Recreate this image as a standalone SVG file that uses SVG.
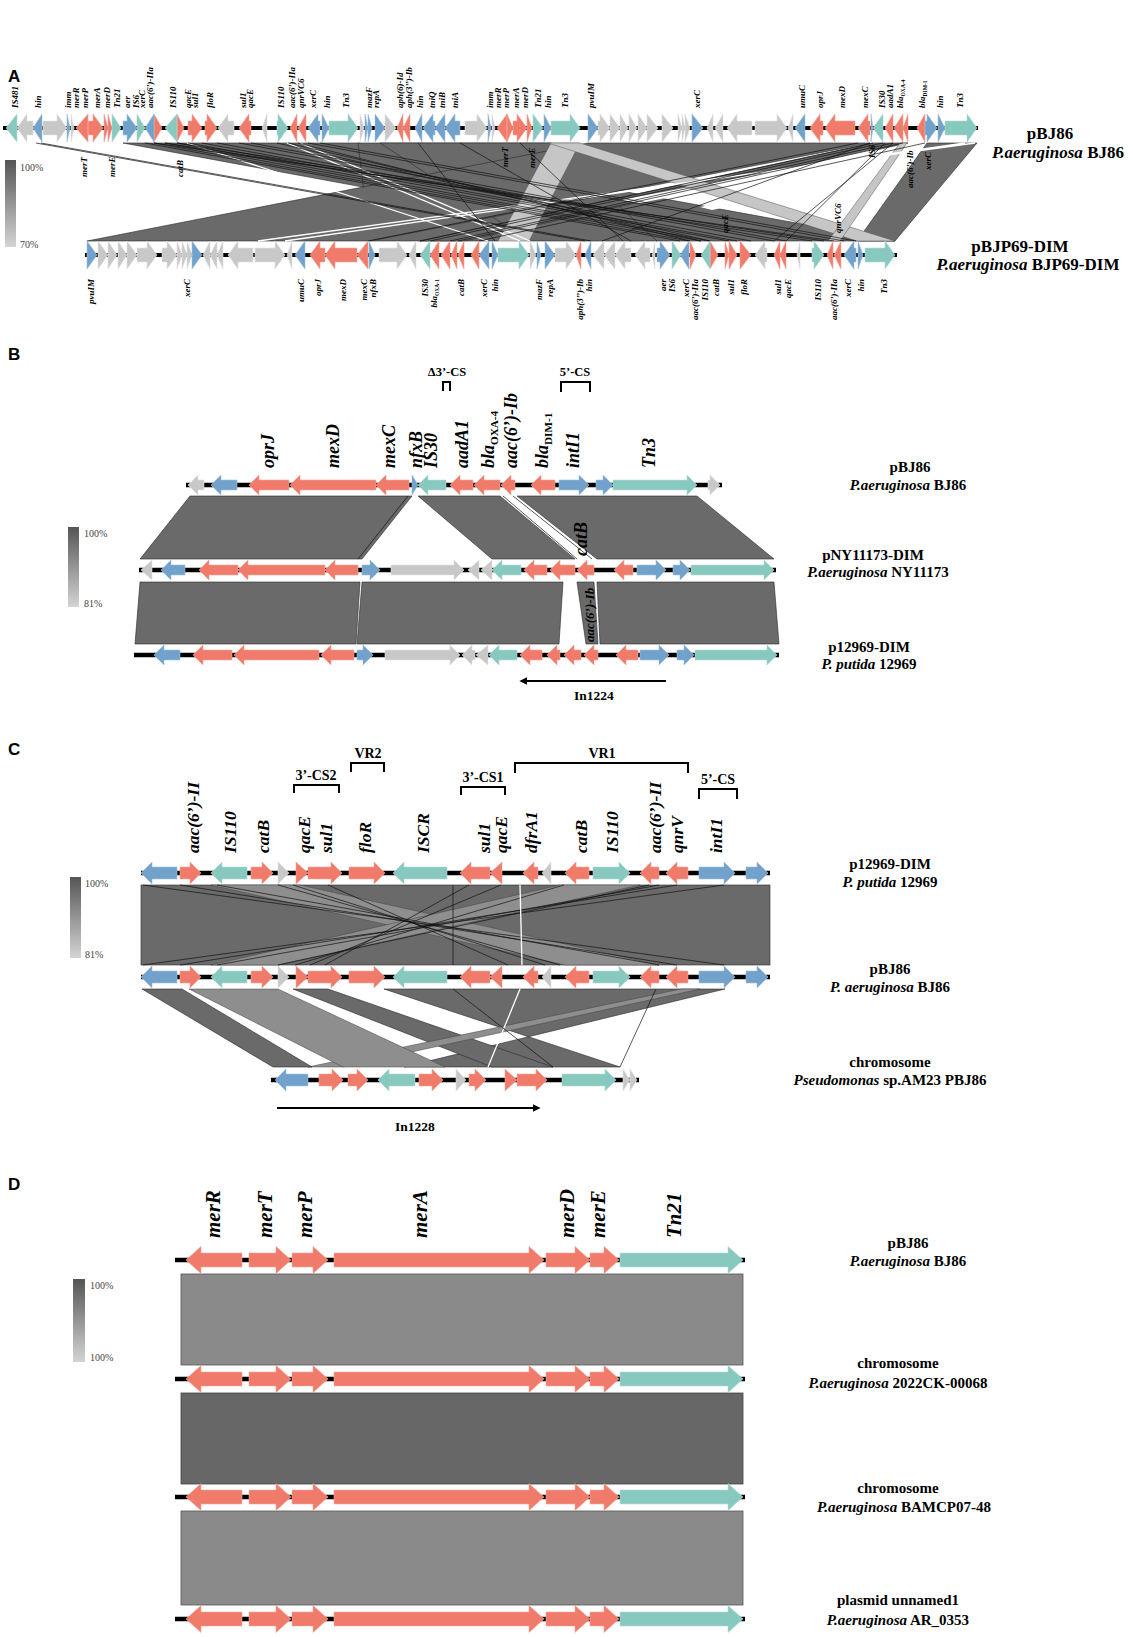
<svg xmlns="http://www.w3.org/2000/svg" width="1133" height="1637" viewBox="0 0 1133 1637">
<defs>
<style>
.r{fill:#f07b6b;stroke:#f5a89a;stroke-width:.6}
.b{fill:#72a2cb;stroke:#a3c3de;stroke-width:.6}
.t{fill:#87c8bf;stroke:#b5ded8;stroke-width:.6}
.g{fill:#c8c8c8;stroke:#e2e2e2;stroke-width:.6}
.trk{stroke:#000;stroke-width:4.5}
.pd{fill:#6a6a6a;stroke:#2a2a2a;stroke-width:.6}
.pl{fill:#c6c6c6;stroke:#555;stroke-width:.5}
.pm{fill:#8e8e8e;stroke:#444;stroke-width:.5}
.pw{fill:#fff;stroke:none}
.bl{stroke:#111;stroke-width:.7;fill:none}
.wl{stroke:#fff;stroke-width:1.3;fill:none}
.gA{font-family:"Liberation Serif",serif;font-style:italic;font-weight:bold;font-size:9px}
.gB{font-family:"Liberation Serif",serif;font-style:italic;font-weight:bold;font-size:18px}
.gC{font-family:"Liberation Serif",serif;font-style:italic;font-weight:bold;font-size:17.5px}
.gD{font-family:"Liberation Serif",serif;font-style:italic;font-weight:bold;font-size:21px}
.nm{font-family:"Liberation Serif",serif;font-weight:bold;font-size:15px;text-anchor:middle}
.nmA{font-family:"Liberation Serif",serif;font-weight:bold;font-size:17px;text-anchor:middle}
.it{font-style:italic}
.sub{font-style:normal;font-size:.62em}
.pan{font-family:"Liberation Sans",Arial,sans-serif;font-weight:bold;font-size:17px}
.pct{font-family:"Liberation Serif",serif;font-size:10px;fill:#444}
.brt{font-family:"Liberation Serif",serif;font-weight:bold;font-size:13px;text-anchor:middle}
.brk{fill:none;stroke:#000;stroke-width:2}
.arr{stroke:#000;stroke-width:2}
</style>
<linearGradient id="grd" x1="0" y1="0" x2="0" y2="1"><stop offset="0" stop-color="#555"/><stop offset="1" stop-color="#d4d4d4"/></linearGradient>
<marker id="ah" viewBox="0 0 10 10" refX="8" refY="5" markerWidth="4" markerHeight="4" orient="auto"><path d="M0,0L10,5L0,10Z" fill="#000"/></marker>
</defs>
<rect width="1133" height="1637" fill="#fff"/>

<!-- ============ PANEL A ============ -->
<text class="pan" x="8" y="82">A</text>
<g id="legendA"><rect x="5" y="160" width="11" height="87" fill="url(#grd)"/><text class="pct" x="20" y="171">100%</text><text class="pct" x="20" y="248">70%</text></g>

<g id="cmpA">
<polygon class="pd" points="123,143 358,143 895,241 657,241"/>
<polygon class="pd" points="358,143 551,143 498,241 370,241"/>
<polygon class="pd" points="380,143 551,143 657,241 529,241"/>
<polygon class="pd" points="588,143 870,143 370,241 87,241"/>
<polygon class="pd" points="873,143 908,143 464,241 420,241"/>
<polygon class="pd" points="927,143 977,143 895,241 857,241"/>
<polygon class="pw" points="620,200 790,168 800,172 640,203"/>
<polygon class="pw" points="700,207 800,186 806,190 712,210"/>
<polygon class="pw" points="760,175 870,150 880,152 776,180"/>
<polygon class="pl" points="551,143 580,143 529,241 498,241"/>
<polygon class="pl" points="548,143 580,143 895,241 857,241"/>
<polygon class="pl" points="900,143 907,143 840,241 828,241"/>
<path class="wl" d="M287,143L520,241M187,143L488,241M975,143L258,241M965,143L285,241M300,143L530,241"/>
<path class="bl" d="M36,143L585,241M41,143L591,241M145,143L680,241M154,143L689,241M165,143L701,241M177,143L710,241M188,143L729,241M202,143L737,241M217,143L751,241M239,143L774,241M251,143L786,241M277,143L701,241M288,143L710,241M165,143L812,241M177,143L824,241M154,143L834,241M298,143L690,241M308,143L844,241M320,143L856,241M418,143L495,241M873,143L420,241M883,143L430,241M893,143L450,241M903,143L458,241M925,143L479,241M858,143L368,241M870,143L602,241M885,143L786,241M893,143L774,241M520,143L623,241M460,143L631,241"/>
</g>

<g id="A-pBJ86" transform="translate(0,128)">
<line class="trk" x1="3" y1="0" x2="978" y2="0" style="stroke-width:4"/>
<path class="r" d="M88,-14L76,0L88,14Z M88,-7H93V-14L103,0L93,14V7H88Z M104,-14L108,0L104,14Z M108,-14L112,0L108,14Z M154,-14L162,0L154,14Z M177,-14L184,0L177,14Z M188,-7H192V-14L202,0L192,14V7H188Z M205,-7H207V-14L217,0L207,14V7H205Z M251,-7H249V-14L239,0L249,14V7H251Z M297,-14L290,0L297,14Z M306,-14L298,0L306,14Z M403,-14L397,0L403,14Z M410,-14L403,0L410,14Z M507,-14L497,0L507,14Z M507,-14L513,0L507,14Z M513,-7H517V-14L527,0L517,14V7H513Z M527,-14L532,0L527,14Z M823,-7H820V-14L810,0L820,14V7H823Z M855,-7H835V-14L825,0L835,14V7H855Z M870,-7H868V-14L858,0L868,14V7H870Z M893,-14L885,0L893,14Z M903,-14L894,0L903,14Z M908,-14L903,0L908,14Z M925,-14L917,0L925,14Z"/>
<path class="b" d="M42,-14L33,0L42,14Z M67,-14L70,0L67,14Z M123,-7H127V-14L137,0L127,14V7H123Z M154,-14L145,0L154,14Z M320,-7H318V-14L308,0L318,14V7H320Z M322,-14L329,0L322,14Z M365,-14L368,0L365,14Z M368,-14L372,0L368,14Z M375,-14L385,0L375,14Z M422,-14L415,0L422,14Z M435,-7H433V-14L423,0L433,14V7H435Z M445,-14L435,0L445,14Z M460,-7H455V-14L445,0L455,14V7H460Z M488,-14L491,0L488,14Z M544,-14L551,0L544,14Z M588,-14L598,0L588,14Z M692,-14L703,0L692,14Z M805,-14L795,0L805,14Z M871,-14L873,0L871,14Z M925,-7H927V-14L937,0L927,14V7H925Z M938,-14L945,0L938,14Z"/>
<path class="t" d="M17,-14L6,0L17,14Z M112,-14L121,0L112,14Z M137,-14L145,0L137,14Z M177,-14L165,0L177,14Z M277,-7H278V-14L288,0L278,14V7H277Z M329,-7H348V-14L358,0L348,14V7H329Z M533,-14L543,0L533,14Z M551,-7H570V-14L580,0L570,14V7H551Z M883,-14L873,0L883,14Z M945,-7H967V-14L977,0L967,14V7H945Z"/>
<path class="g" d="M33,-7H27V-14L17,0L27,14V7H33Z M43,-7H57V-14L67,0L57,14V7H43Z M71,-14L74,0L71,14Z M234,-7H228V-14L218,0L228,14V7H234Z M267,-14L262,0L267,14Z M360,-14L364,0L360,14Z M385,-14L396,0L385,14Z M465,-7H477V-14L487,0L477,14V7H465Z M492,-14L495,0L492,14Z M598,-7H600V-14L610,0L600,14V7H598Z M610,-14L620,0L610,14Z M620,-14L628,0L620,14Z M629,-14L637,0L629,14Z M638,-14L647,0L638,14Z M647,-14L658,0L647,14Z M662,-14L673,0L662,14Z M678,-14L682,0L678,14Z M682,-14L685,0L682,14Z M685,-14L690,0L685,14Z M713,-14L707,0L713,14Z M723,-14L715,0L723,14Z M752,-7H737V-14L727,0L737,14V7H752Z M755,-7H777V-14L787,0L777,14V7H755Z M793,-14L788,0L793,14Z"/>
</g>

<g id="A-pBJP69" transform="translate(0,255)">
<line class="trk" x1="85" y1="0" x2="897" y2="0" style="stroke-width:4"/>
<path class="r" d="M325,-7H320V-14L310,0L320,14V7H325Z M357,-7H335V-14L325,0L335,14V7H357Z M368,-14L357,0L368,14Z M439,-14L430,0L439,14Z M450,-14L441,0L450,14Z M457,-14L451,0L457,14Z M464,-14L458,0L464,14Z M479,-14L471,0L479,14Z M581,-14L576,0L581,14Z M690,-14L696,0L690,14Z M710,-14L718,0L710,14Z M725,-14L729,0L725,14Z M729,-14L737,0L729,14Z M740,-14L751,0L740,14Z M780,-14L774,0L780,14Z M786,-14L780,0L786,14Z M833,-14L827,0L833,14Z M841,-14L834,0L841,14Z"/>
<path class="b" d="M87,-14L97,0L87,14Z M192,-14L202,0L192,14Z M305,-14L295,0L305,14Z M369,-14L375,0L369,14Z M489,-14L479,0L489,14Z M492,-14L498,0L492,14Z M537,-14L541,0L537,14Z M545,-14L555,0L545,14Z M591,-14L585,0L591,14Z M657,-7H660V-14L670,0L660,14V7H657Z M689,-14L680,0L689,14Z M856,-7H854V-14L844,0L854,14V7H856Z M858,-14L863,0L858,14Z"/>
<path class="t" d="M430,-14L420,0L430,14Z M498,-7H519V-14L529,0L519,14V7H498Z M672,-14L681,0L672,14Z M710,-14L701,0L710,14Z M812,-7H814V-14L824,0L814,14V7H812Z M865,-7H885V-14L895,0L885,14V7H865Z"/>
<path class="g" d="M98,-14L108,0L98,14Z M108,-14L117,0L108,14Z M118,-14L127,0L118,14Z M127,-14L137,0L127,14Z M137,-7H147V-14L157,0L147,14V7H137Z M162,-7H167V-14L177,0L167,14V7H162Z M177,-14L182,0L177,14Z M182,-14L187,0L182,14Z M187,-14L192,0L187,14Z M210,-14L203,0L210,14Z M217,-14L210,0L217,14Z M223,-14L217,0L223,14Z M253,-7H238V-14L228,0L238,14V7H253Z M255,-7H275V-14L285,0L275,14V7H255Z M292,-14L287,0L292,14Z M379,-7H397V-14L407,0L397,14V7H379Z M416,-14L409,0L416,14Z M530,-14L536,0L530,14Z M555,-7H566V-14L576,0L566,14V7H555Z M604,-14L593,0L604,14Z M615,-14L604,0L615,14Z M631,-7H625V-14L615,0L625,14V7H631Z M650,-7H645V-14L635,0L645,14V7H650Z M655,-14L652,0L655,14Z M767,-7H765V-14L755,0L765,14V7H767Z M800,-14L797,0L800,14Z"/>
</g>

<g id="A-labels-top" class="gA">
<text transform="translate(18,108) rotate(-90)">IS481</text>
<text transform="translate(41,108) rotate(-90)">hin</text>
<text transform="translate(71,108) rotate(-90)">imm</text>
<text transform="translate(79,108) rotate(-90)">merR</text>
<text transform="translate(88,108) rotate(-90)">merP</text>
<text transform="translate(100,108) rotate(-90)">merA</text>
<text transform="translate(110,108) rotate(-90)">merD</text>
<text transform="translate(120,108) rotate(-90)">Tn21</text>
<text transform="translate(130,108) rotate(-90)">aer</text>
<text transform="translate(139,108) rotate(-90)">IS6</text>
<text transform="translate(145,108) rotate(-90)">xerC</text>
<text transform="translate(153,108) rotate(-90)">aac(6’)-IIa</text>
<text transform="translate(176,108) rotate(-90)">IS110</text>
<text transform="translate(191,108) rotate(-90)">qacE</text>
<text transform="translate(198,108) rotate(-90)">sul1</text>
<text transform="translate(213,108) rotate(-90)">floR</text>
<text transform="translate(246,108) rotate(-90)">sul1</text>
<text transform="translate(253,108) rotate(-90)">qacE</text>
<text transform="translate(284,108) rotate(-90)">IS110</text>
<text transform="translate(295,108) rotate(-90)">aac(6’)-IIa</text>
<text transform="translate(304,108) rotate(-90)">qnrVC6</text>
<text transform="translate(316,108) rotate(-90)">xerC</text>
<text transform="translate(330,108) rotate(-90)">hin</text>
<text transform="translate(349,108) rotate(-90)">Tn3</text>
<text transform="translate(372,108) rotate(-90)">mazF</text>
<text transform="translate(379,108) rotate(-90)">repA</text>
<text transform="translate(403,108) rotate(-90)">aph(6)-Id</text>
<text transform="translate(412,108) rotate(-90)">aph(3’’)-Ib</text>
<text transform="translate(423,108) rotate(-90)">hin</text>
<text transform="translate(435,108) rotate(-90)">tniQ</text>
<text transform="translate(445,108) rotate(-90)">tniB</text>
<text transform="translate(458,108) rotate(-90)">tniA</text>
<text transform="translate(493,108) rotate(-90)">imm</text>
<text transform="translate(501,108) rotate(-90)">merR</text>
<text transform="translate(509,108) rotate(-90)">merP</text>
<text transform="translate(519,108) rotate(-90)">merA</text>
<text transform="translate(528,108) rotate(-90)">merD</text>
<text transform="translate(541,108) rotate(-90)">Tn21</text>
<text transform="translate(551,108) rotate(-90)">hin</text>
<text transform="translate(568,108) rotate(-90)">Tn3</text>
<text transform="translate(594,108) rotate(-90)">pvuIM</text>
<text transform="translate(700,108) rotate(-90)">xerC</text>
<text transform="translate(805,108) rotate(-90)">umuC</text>
<text transform="translate(823,108) rotate(-90)">oprJ</text>
<text transform="translate(845,108) rotate(-90)">mexD</text>
<text transform="translate(868,108) rotate(-90)">mexC</text>
<text transform="translate(885,108) rotate(-90)">IS30</text>
<text transform="translate(893,108) rotate(-90)">aadA1</text>
<text transform="translate(903,108) rotate(-90)">bla<tspan class="sub" dy="2">OXA-4</tspan></text>
<text transform="translate(925,108) rotate(-90)">bla<tspan class="sub" dy="2">DIM-1</tspan></text>
<text transform="translate(943,108) rotate(-90)">hin</text>
<text transform="translate(963,108) rotate(-90)">Tn3</text>
</g>

<g id="A-labels-mid" class="gA">
<text transform="translate(87,177) rotate(-90)">merT</text>
<text transform="translate(115,177) rotate(-90)">merE</text>
<text transform="translate(183,177) rotate(-90)">catB</text>
<text transform="translate(508,167) rotate(-90)">merT</text>
<text transform="translate(535,168) rotate(-90)">merE</text>
<text transform="translate(728,233) rotate(-90)">qacE</text>
<text transform="translate(841,233) rotate(-90)">qnrVC6</text>
<text transform="translate(875,158) rotate(-90)">IS6</text>
<text transform="translate(913,188) rotate(-90)">aac(6’)-Ib</text>
<text transform="translate(931,170) rotate(-90)">xerC</text>
</g>

<g id="A-labels-bottom" class="gA" text-anchor="end">
<text transform="translate(94,279) rotate(-90)">pvuIM</text>
<text transform="translate(190,279) rotate(-90)">xerC</text>
<text transform="translate(304,279) rotate(-90)">umuC</text>
<text transform="translate(321,279) rotate(-90)">oprJ</text>
<text transform="translate(346,279) rotate(-90)">mexD</text>
<text transform="translate(367,279) rotate(-90)">mexC</text>
<text transform="translate(376,279) rotate(-90)">nfxB</text>
<text transform="translate(428,279) rotate(-90)">IS30</text>
<text transform="translate(437,279) rotate(-90)">bla<tspan class="sub" dy="2">OXA-1</tspan></text>
<text transform="translate(464,279) rotate(-90)">catB</text>
<text transform="translate(487,279) rotate(-90)">xerC</text>
<text transform="translate(498,279) rotate(-90)">hin</text>
<text transform="translate(542,279) rotate(-90)">mazF</text>
<text transform="translate(553,279) rotate(-90)">repA</text>
<text transform="translate(583,279) rotate(-90)">aph(3’’)-Ib</text>
<text transform="translate(592,279) rotate(-90)">hin</text>
<text transform="translate(666,279) rotate(-90)">aer</text>
<text transform="translate(675,279) rotate(-90)">IS6</text>
<text transform="translate(689,279) rotate(-90)">xerC</text>
<text transform="translate(698,279) rotate(-90)">aac(6’)-IIa</text>
<text transform="translate(708,279) rotate(-90)">IS110</text>
<text transform="translate(719,279) rotate(-90)">catB</text>
<text transform="translate(734,279) rotate(-90)">sul1</text>
<text transform="translate(747,279) rotate(-90)">floR</text>
<text transform="translate(781,279) rotate(-90)">sul1</text>
<text transform="translate(791,279) rotate(-90)">qacE</text>
<text transform="translate(821,279) rotate(-90)">IS110</text>
<text transform="translate(837,279) rotate(-90)">aac(6’)-IIa</text>
<text transform="translate(851,279) rotate(-90)">xerC</text>
<text transform="translate(864,279) rotate(-90)">hin</text>
<text transform="translate(887,279) rotate(-90)">Tn3</text>
</g>

<g id="A-names">
<text class="nmA" x="1050" y="139">pBJ86</text>
<text class="nmA" x="1058" y="158"><tspan class="it">P.aeruginosa</tspan> BJ86</text>
<text class="nmA" x="1020" y="252">pBJP69-DIM</text>
<text class="nmA" x="1028" y="270"><tspan class="it">P.aeruginosa</tspan> BJP69-DIM</text>
</g>

<!-- ============ PANEL B ============ -->
<text class="pan" x="8" y="360">B</text>
<g id="legendB"><rect x="68" y="527" width="11" height="80" fill="url(#grd)"/><text class="pct" x="84" y="537">100%</text><text class="pct" x="84" y="607">81%</text></g>

<g id="brkB">
<path class="brk" d="M443,391V382H450V391M561,392V382H590V392"/>
<text class="brt" x="447" y="376" style="font-size:12.5px">Δ3’-CS</text>
<text class="brt" x="575" y="376" style="font-size:12.5px">5’-CS</text>
</g>

<g id="cmpB">
<polygon class="pd" points="190,496 412,496 362,559 140,559"/>
<polygon class="pd" points="418,496 500,496 575,559 492,559"/>
<polygon class="pd" points="517,496 697,496 774,559 597,559"/>
<path class="bl" d="M408,496L358,559M503,496L577,559M513,496L592,559"/>
<polygon class="pd" points="140,582 360,582 356,644 135,644"/>
<polygon class="pd" points="362,582 563,582 559,644 357,644"/>
<polygon class="pd" points="577,582 594,582 598,644 586,644"/>
<polygon class="pd" points="597,582 774,582 779,644 600,644"/>
</g>

<g id="B-pBJ86" transform="translate(0,485)">
<line class="trk" x1="186" y1="0" x2="722" y2="0"/>
<path class="g" d="M204,-5H198V-10L188,0L198,10V5H204Z M708,-5H710V-10L720,0L710,10V5H708Z"/>
<path class="b" d="M237,-5H221V-10L211,0L221,10V5H237Z M412,-10L418,0L412,10Z M559,-5H579V-10L589,0L579,10V5H559Z M596,-5H603V-10L613,0L603,10V5H596Z"/>
<path class="r" d="M289,-5H259V-10L249,0L259,10V5H289Z M376,-5H300V-10L290,0L300,10V5H376Z M409,-5H386V-10L376,0L386,10V5H409Z M473,-5H460V-10L450,0L460,10V5H473Z M500,-5H484V-10L474,0L484,10V5H500Z M515,-5H511V-10L501,0L511,10V5H515Z M555,-5H541V-10L531,0L541,10V5H555Z"/>
<path class="t" d="M446,-5H428V-10L418,0L428,10V5H446Z M613,-5H687V-10L697,0L687,10V5H613Z"/>
</g>
<g id="B-pNY11173" transform="translate(0,570)">
<line class="trk" x1="139" y1="0" x2="776" y2="0"/>
<path class="g" d="M152,-10L141,0L152,10Z M391,-5H454V-10L464,0L454,10V5H391Z M479,-10L468,0L479,10Z M492,-10L481,0L492,10Z"/>
<path class="b" d="M185,-5H171V-10L161,0L171,10V5H185Z M362,-5H370V-10L380,0L370,10V5H362Z M637,-5H656V-10L666,0L656,10V5H637Z M673,-5H680V-10L690,0L680,10V5H673Z"/>
<path class="r" d="M238,-5H209V-10L199,0L209,10V5H238Z M325,-5H248V-10L238,0L248,10V5H325Z M358,-5H335V-10L325,0L335,10V5H358Z M547,-5H534V-10L524,0L534,10V5H547Z M575,-5H560V-10L550,0L560,10V5H575Z M594,-5H587V-10L577,0L587,10V5H594Z M633,-5H624V-10L614,0L624,10V5H633Z"/>
<path class="t" d="M521,-5H502V-10L492,0L502,10V5H521Z M691,-5H764V-10L774,0L764,10V5H691Z"/>
</g>
<g id="B-p12969" transform="translate(0,655)">
<line class="trk" x1="134" y1="0" x2="779" y2="0"/>
<path class="g" d="M385,-5H450V-10L460,0L450,10V5H385Z M475,-5H472V-10L462,0L472,10V5H475Z M488,-10L476,0L488,10Z"/>
<path class="b" d="M180,-5H164V-10L154,0L164,10V5H180Z M357,-5H363V-10L373,0L363,10V5H357Z M640,-5H659V-10L669,0L659,10V5H640Z M677,-5H684V-10L694,0L684,10V5H677Z"/>
<path class="r" d="M232,-5H203V-10L193,0L203,10V5H232Z M319,-5H244V-10L234,0L244,10V5H319Z M354,-5H331V-10L321,0L331,10V5H354Z M542,-5H530V-10L520,0L530,10V5H542Z M560,-5H557V-10L547,0L557,10V5H560Z M581,-5H574V-10L564,0L574,10V5H581Z M598,-5H594V-10L584,0L594,10V5H598Z M638,-5H626V-10L616,0L626,10V5H638Z"/>
<path class="t" d="M517,-5H499V-10L489,0L499,10V5H517Z M695,-5H767V-10L777,0L767,10V5H695Z"/>
</g>

<g id="B-labels" class="gB">
<text transform="translate(274,468) rotate(-90)">oprJ</text>
<text transform="translate(339,468) rotate(-90)">mexD</text>
<text transform="translate(395,468) rotate(-90)">mexC</text>
<text transform="translate(422,468) rotate(-90)">nfxB</text>
<text transform="translate(437,468) rotate(-90)">IS30</text>
<text transform="translate(468,468) rotate(-90)">aadA1</text>
<text transform="translate(494,468) rotate(-90)">bla<tspan class="sub" dy="4">OXA-4</tspan></text>
<text transform="translate(517,468) rotate(-90)">aac(6’)-Ib</text>
<text transform="translate(548,468) rotate(-90)">bla<tspan class="sub" dy="4">DIM-1</tspan></text>
<text transform="translate(579,468) rotate(-90)">intI1</text>
<text transform="translate(655,468) rotate(-90)">Tn3</text>
<text transform="translate(587,556) rotate(-90)">catB</text>
<text transform="translate(594,642) rotate(-90)" style="font-size:13px">aac(6’)-Ib</text>
</g>

<g id="In1224">
<line class="arr" x1="666" y1="681" x2="521" y2="681" marker-end="url(#ah)"/>
<text class="brt" x="594" y="700" style="font-size:13.5px">In1224</text>
</g>

<g id="B-names">
<text class="nm" x="910" y="472">pBJ86</text>
<text class="nm" x="908" y="490"><tspan class="it">P.aeruginosa</tspan> BJ86</text>
<text class="nm" x="873" y="560">pNY11173-DIM</text>
<text class="nm" x="878" y="577"><tspan class="it">P.aeruginosa</tspan> NY11173</text>
<text class="nm" x="869" y="652">p12969-DIM</text>
<text class="nm" x="869" y="669"><tspan class="it">P.  putida</tspan> 12969</text>
</g>

<!-- ============ PANEL C ============ -->
<text class="pan" x="8" y="755">C</text>
<g id="legendC"><rect x="70" y="877" width="11" height="81" fill="url(#grd)"/><text class="pct" x="85" y="887">100%</text><text class="pct" x="85" y="958">81%</text></g>

<g id="brkC">
<path class="brk" d="M294,793V785H339V793M351,772V763H384V772M461,795V787H505V795M515,773V763H688V773M699,799V789H737V799"/>
<text class="brt" x="316" y="780" style="font-size:14px">3’-CS2</text>
<text class="brt" x="368" y="758" style="font-size:14px">VR2</text>
<text class="brt" x="483" y="782" style="font-size:14px">3’-CS1</text>
<text class="brt" x="602" y="758" style="font-size:14px">VR1</text>
<text class="brt" x="718" y="784" style="font-size:14px">5’-CS</text>
</g>

<g id="cmpC">
<rect x="141" y="885" width="629" height="80" class="pd"/>
<polygon class="pm" points="211,885 300,885 659,965 565,965"/>
<polygon class="pm" points="560,885 640,885 278,965 211,965"/>
<path class="bl" d="M143,885L724,965M180,885L677,965M217,885L659,965M278,885L560,965M293,885L545,965M328,885L508,965M724,885L143,965M677,885L180,965M659,885L217,965M649,885L278,965M564,885L295,965M469,885L325,965M501,885L310,965M453,885L453,965"/>
<path class="wl" d="M520,885L522,965"/>
<polygon class="pd" points="384,989 725,989 404,1067 620,1067"/>
<polygon class="pd" points="293,989 328,989 553,1067 492,1067"/>
<polygon class="pm" points="681,989 700,989 343,1067 308,1067"/>
<polygon class="pd" points="142,989 182,989 312,1067 273,1067"/>
<polygon class="pm" points="189,989 278,989 445,1067 343,1067"/>
<path class="wl" d="M520,989L488,1067"/>
<path class="bl" d="M453,989L553,1067M656,989L620,1067"/>
</g>

<g id="C-p12969" transform="translate(0,873)">
<line class="trk" x1="141" y1="0" x2="770" y2="0"/>
<path class="b" d="M177,-6H152V-11L141,0L152,11V6H177Z M699,-6H724V-11L735,0L724,11V6H699Z M746,-6H757V-11L768,0L757,11V6H746Z"/>
<path class="r" d="M180,-6H190V-11L201,0L190,11V6H180Z M251,-6H262V-11L273,0L262,11V6H251Z M296,-11L308,0L296,11Z M308,-6H331V-11L342,0L331,11V6H308Z M349,-6H374V-11L385,0L374,11V6H349Z M490,-6H471V-11L460,0L471,11V6H490Z M502,-11L490,0L502,11Z M538,-6H534V-11L523,0L534,11V6H538Z M589,-6H576V-11L565,0L576,11V6H589Z M659,-6H651V-11L640,0L651,11V6H659Z M688,-6H677V-11L666,0L677,11V6H688Z"/>
<path class="t" d="M247,-6H222V-11L211,0L222,11V6H247Z M447,-6H404V-11L393,0L404,11V6H447Z M593,-6H619V-11L630,0L619,11V6H593Z"/>
<path class="g" d="M278,-11L289,0L278,11Z M551,-11L542,0L551,11Z"/>
</g>
<g id="C-pBJ86" transform="translate(0,977)">
<line class="trk" x1="141" y1="0" x2="770" y2="0"/>
<path class="b" d="M177,-6H152V-11L141,0L152,11V6H177Z M699,-6H724V-11L735,0L724,11V6H699Z M746,-6H757V-11L768,0L757,11V6H746Z"/>
<path class="r" d="M180,-6H190V-11L201,0L190,11V6H180Z M251,-6H262V-11L273,0L262,11V6H251Z M296,-11L308,0L296,11Z M308,-6H331V-11L342,0L331,11V6H308Z M349,-6H374V-11L385,0L374,11V6H349Z M490,-6H471V-11L460,0L471,11V6H490Z M502,-11L490,0L502,11Z M538,-6H534V-11L523,0L534,11V6H538Z M589,-6H576V-11L565,0L576,11V6H589Z M659,-6H651V-11L640,0L651,11V6H659Z M688,-6H677V-11L666,0L677,11V6H688Z"/>
<path class="t" d="M247,-6H222V-11L211,0L222,11V6H247Z M447,-6H404V-11L393,0L404,11V6H447Z M593,-6H619V-11L630,0L619,11V6H593Z"/>
<path class="g" d="M278,-11L289,0L278,11Z M551,-11L542,0L551,11Z"/>
</g>
<g id="C-chrom" transform="translate(0,1080)">
<line class="trk" x1="271" y1="0" x2="639" y2="0"/>
<path class="b" d="M308,-6H286V-11L275,0L286,11V6H308Z"/>
<path class="r" d="M319,-6H332V-11L343,0L332,11V6H319Z M348,-6H357V-11L368,0L357,11V6H348Z M419,-6H432V-11L443,0L432,11V6H419Z M469,-6H475V-11L486,0L475,11V6H469Z M505,-11L517,0L505,11Z M517,-6H536V-11L547,0L536,11V6H517Z"/>
<path class="t" d="M415,-6H389V-11L378,0L389,11V6H415Z M562,-6H605V-11L616,0L605,11V6H562Z"/>
<path class="g" d="M456,-11L466,0L456,11Z M623,-11L630,0L623,11Z M630,-11L637,0L630,11Z"/>
</g>

<g id="C-labels" class="gC">
<text transform="translate(199,853) rotate(-90)">aac(6’)-II</text>
<text transform="translate(236,853) rotate(-90)">IS110</text>
<text transform="translate(269,853) rotate(-90)">catB</text>
<text transform="translate(310,853) rotate(-90)">qacE</text>
<text transform="translate(332,853) rotate(-90)">sul1</text>
<text transform="translate(371,853) rotate(-90)">floR</text>
<text transform="translate(429,853) rotate(-90)">ISCR</text>
<text transform="translate(490,853) rotate(-90)">sul1</text>
<text transform="translate(507,853) rotate(-90)">qacE</text>
<text transform="translate(537,853) rotate(-90)">dfrA1</text>
<text transform="translate(587,853) rotate(-90)">catB</text>
<text transform="translate(618,853) rotate(-90)">IS110</text>
<text transform="translate(661,853) rotate(-90)">aac(6’)-II</text>
<text transform="translate(683,853) rotate(-90)">qnrV</text>
<text transform="translate(722,853) rotate(-90)">intI1</text>
</g>

<g id="In1228">
<line class="arr" x1="277" y1="1108" x2="539" y2="1108" marker-end="url(#ah)"/>
<text class="brt" x="415" y="1131" style="font-size:13.5px">In1228</text>
</g>

<g id="C-names">
<text class="nm" x="890" y="869">p12969-DIM</text>
<text class="nm" x="890" y="887"><tspan class="it">P.  putida</tspan> 12969</text>
<text class="nm" x="890" y="974">pBJ86</text>
<text class="nm" x="890" y="992"><tspan class="it">P. aeruginosa</tspan> BJ86</text>
<text class="nm" x="890" y="1067">chromosome</text>
<text class="nm" x="890" y="1085"><tspan class="it">Pseudomonas</tspan> sp.AM23 PBJ86</text>
</g>

<!-- ============ PANEL D ============ -->
<text class="pan" x="8" y="1190">D</text>
<g id="legendD"><rect x="73" y="1279" width="12" height="83" fill="url(#grd)"/><text class="pct" x="90" y="1289">100%</text><text class="pct" x="90" y="1361">100%</text></g>

<g id="cmpD">
<rect x="181" y="1274" width="562" height="91" fill="#8a8a8a" stroke="#555" stroke-width=".8"/>
<rect x="181" y="1393" width="562" height="91" fill="#676767" stroke="#444" stroke-width=".8"/>
<rect x="181" y="1511" width="562" height="94" fill="#8a8a8a" stroke="#555" stroke-width=".8"/>
</g>

<g id="D-pBJ86" transform="translate(0,1260)">
<line class="trk" x1="175" y1="0" x2="745" y2="0"/>
<path class="r" d="M242,-7H201V-13.5L186,0L201,13.5V7H242Z M249,-7H276V-13.5L291,0L276,13.5V7H249Z M292,-7H313V-13.5L328,0L313,13.5V7H292Z M334,-7H529V-13.5L544,0L529,13.5V7H334Z M546,-7H575V-13.5L590,0L575,13.5V7H546Z M590,-7H604V-13.5L619,0L604,13.5V7H590Z"/>
<path class="t" d="M620,-7H728V-13.5L743,0L728,13.5V7H620Z"/>
</g>
<g id="D-2022CK" transform="translate(0,1379)">
<line class="trk" x1="175" y1="0" x2="745" y2="0"/>
<path class="r" d="M242,-7H201V-13.5L186,0L201,13.5V7H242Z M249,-7H276V-13.5L291,0L276,13.5V7H249Z M292,-7H313V-13.5L328,0L313,13.5V7H292Z M334,-7H529V-13.5L544,0L529,13.5V7H334Z M546,-7H575V-13.5L590,0L575,13.5V7H546Z M590,-7H604V-13.5L619,0L604,13.5V7H590Z"/>
<path class="t" d="M620,-7H728V-13.5L743,0L728,13.5V7H620Z"/>
</g>
<g id="D-BAMCP07" transform="translate(0,1497)">
<line class="trk" x1="175" y1="0" x2="745" y2="0"/>
<path class="r" d="M242,-7H201V-13.5L186,0L201,13.5V7H242Z M249,-7H276V-13.5L291,0L276,13.5V7H249Z M292,-7H313V-13.5L328,0L313,13.5V7H292Z M334,-7H529V-13.5L544,0L529,13.5V7H334Z M546,-7H575V-13.5L590,0L575,13.5V7H546Z M590,-7H604V-13.5L619,0L604,13.5V7H590Z"/>
<path class="t" d="M620,-7H728V-13.5L743,0L728,13.5V7H620Z"/>
</g>
<g id="D-AR0353" transform="translate(0,1619)">
<line class="trk" x1="175" y1="0" x2="745" y2="0"/>
<path class="r" d="M242,-7H201V-13.5L186,0L201,13.5V7H242Z M249,-7H276V-13.5L291,0L276,13.5V7H249Z M292,-7H313V-13.5L328,0L313,13.5V7H292Z M334,-7H529V-13.5L544,0L529,13.5V7H334Z M546,-7H575V-13.5L590,0L575,13.5V7H546Z M590,-7H604V-13.5L619,0L604,13.5V7H590Z"/>
<path class="t" d="M620,-7H728V-13.5L743,0L728,13.5V7H620Z"/>
</g>

<g id="D-labels" class="gD">
<text transform="translate(220,1238) rotate(-90)">merR</text>
<text transform="translate(272,1238) rotate(-90)">merT</text>
<text transform="translate(312,1238) rotate(-90)">merP</text>
<text transform="translate(427,1238) rotate(-90)">merA</text>
<text transform="translate(574,1238) rotate(-90)">merD</text>
<text transform="translate(605,1238) rotate(-90)">merE</text>
<text transform="translate(681,1238) rotate(-90)">Tn21</text>
</g>

<g id="D-names">
<text class="nm" x="908" y="1248">pBJ86</text>
<text class="nm" x="908" y="1266"><tspan class="it">P.aeruginosa</tspan> BJ86</text>
<text class="nm" x="898" y="1368">chromosome</text>
<text class="nm" x="898" y="1388"><tspan class="it">P.aeruginosa</tspan> 2022CK-00068</text>
<text class="nm" x="898" y="1493">chromosome</text>
<text class="nm" x="904" y="1512"><tspan class="it">P.aeruginosa</tspan>  BAMCP07-48</text>
<text class="nm" x="898" y="1605">plasmid unnamed1</text>
<text class="nm" x="898" y="1625"><tspan class="it">P.aeruginosa</tspan> AR_0353</text>
</g>
</svg>
